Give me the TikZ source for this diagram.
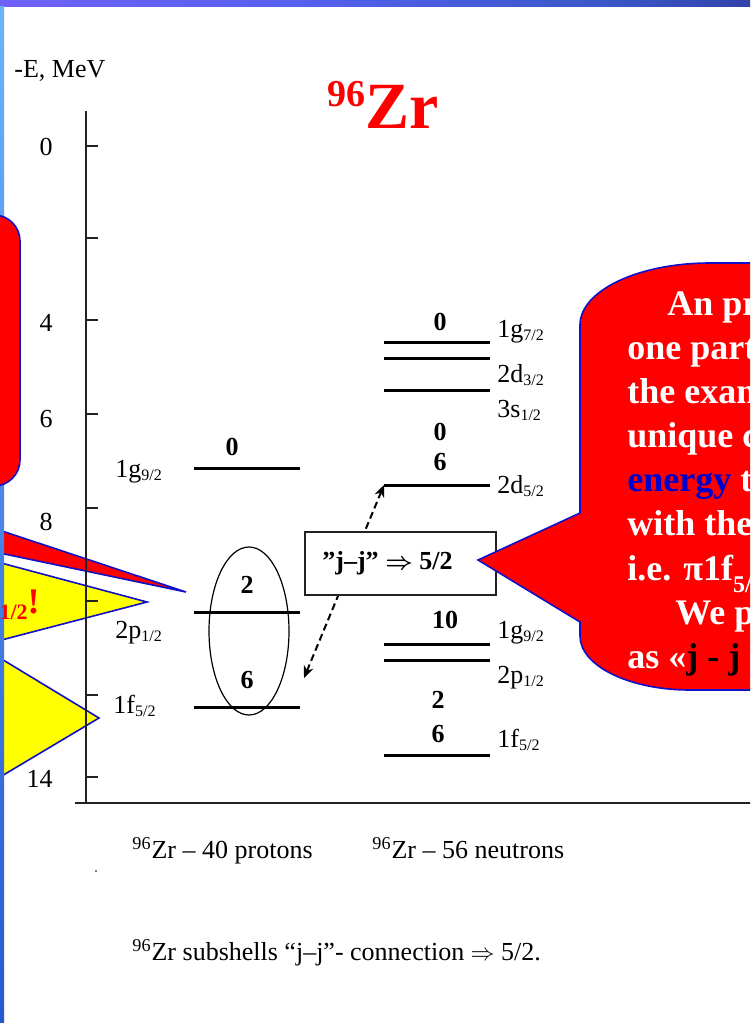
\documentclass[tikz,border=0pt]{standalone}
\usepackage{fontspec}
\setmainfont{Liberation Serif}
\usetikzlibrary{arrows.meta,positioning,calc}
\definecolor{calloutred}{HTML}{FF0000}
\definecolor{calloutyellow}{HTML}{FFFF00}
\definecolor{edgeblue}{HTML}{1010C8}
\definecolor{wordblue}{HTML}{0000CC}
\definecolor{axisgray}{HTML}{222222}
\definecolor{barA}{HTML}{5C96FF}
\definecolor{barB}{HTML}{7D62FF}
\definecolor{barC}{HTML}{5560EE}
\definecolor{barD}{HTML}{3A58C8}
\definecolor{barE}{HTML}{2A2E8C}
\definecolor{barF}{HTML}{1E1E5E}
\definecolor{stripetop}{HTML}{6AB4FF}
\definecolor{stripebot}{HTML}{2858D0}
\pgfdeclarehorizontalshading{topbar}{100bp}{color(0bp)=(barA); color(15bp)=(barB); color(45bp)=(barC); color(65bp)=(barD); color(85bp)=(barE); color(100bp)=(barF)}
\newcommand{\sub}[1]{\raisebox{-1.5pt}{\fontsize{8}{8}\selectfont #1}}

\begin{document}
\begin{tikzpicture}[x=0.5pt,y=-0.5pt,>=Stealth,
    level/.style={line width=1.5pt,draw=black},
    axis/.style={line width=0.6pt,draw=axisgray},
    occ/.style={anchor=base,inner sep=0pt,font=\fontsize{13}{15}\selectfont\bfseries},
    shell/.style={anchor=base west,inner sep=0pt,font=\fontsize{13}{15}\selectfont},
    mev/.style={anchor=base east,inner sep=0pt,font=\fontsize{13}{15}\selectfont},
    plain/.style={anchor=base west,inner sep=0pt,font=\fontsize{13}{15}\selectfont},
    balloon/.style={fill=calloutred,draw=edgeblue,line width=0.8pt},
    pointer/.style={fill=calloutyellow,draw=edgeblue,line width=0.8pt},
    say/.style={anchor=base west,inner sep=0pt,text=white,font=\fontsize{18}{22}\selectfont\bfseries},
    jjbox/.style={draw=axisgray,line width=0.65pt,fill=white,minimum width=95.5pt,minimum height=31.5pt,inner sep=0pt,font=\fontsize{13}{15}\selectfont\bfseries\boldmath},
    link/.style={{Stealth[length=6pt,width=5pt]}-{Stealth[length=6pt,width=5pt]},dashed,dash pattern=on 3.5pt off 2pt,line width=1pt}]
  \clip (0,0) rectangle (750,1023);
  \fill[white] (0,0) rectangle (750,1023);
  \shade[shading=topbar] (0,0) rectangle (750,6);

  % callouts coming in from the left
  \draw[balloon] (-10,527) -- (186,592) -- (-10,551) -- cycle;
  \draw[pointer] (-10,560) -- (147,602) -- (-10,643) -- cycle;
  \draw[pointer] (-10,652) -- (99,718) -- (-10,783) -- cycle;
  \shade[top color=stripetop,bottom color=stripebot] (0,6) rectangle (4,1023);
  \draw[balloon,rounded corners=13pt] (-40,215) rectangle (20,486);
  \node[anchor=base east,inner sep=0pt,text=calloutred,font=\fontsize{18}{18}\selectfont\bfseries] (bang) at (40,613)
    {\raisebox{-3pt}{\fontsize{11}{11}\selectfont 1/2}!};

  % energy axis
  \draw[axis] (86,111) -- (86,803);
  \draw[axis] (75,803) -- (760,803);
  \foreach \y in {146,238,320,414,508,601,695,777}
    \draw[axis] (86,\y) -- (98,\y);
  \foreach \v/\y in {0/155,4/331,6/427,8/530,14/787}
    \node[mev] (t\v) at (53,\y) {\v};
  \node[plain] (eaxis) at (14,77) {-E, MeV};
  \node[anchor=base west,inner sep=0pt,text=calloutred,font=\fontsize{33}{34}\selectfont\bfseries] (title) at (327,128)
    {\raisebox{11pt}{\fontsize{19}{19}\selectfont 96}Zr};

  % proton subshells
  \foreach \y/\nm in {468/p1g92,612/p2p12,707/p1f52}
    \draw[level] (194,\y) coordinate (\nm w) -- (300,\y) coordinate (\nm e);
  \node[shell] (lp1) at (115,477) {1g\sub{9/2}};
  \node[shell] (lp2) at (115,638) {2p\sub{1/2}};
  \node[shell] (lp3) at (113,713) {1f\sub{5/2}};
  \node[occ] (op1) at (232,455) {0};
  \node[occ] (op2) at (247,593) {2};
  \node[occ] (op3) at (247,688) {6};
  \draw[line width=0.6pt] (249,631) ellipse [x radius=40,y radius=84];

  % neutron subshells
  \foreach \y/\nm in {342/n1g72,358/n2d32,390/n3s12,485/n2d52,644/n1g92,660/n2p12,755/n1f52}
    \draw[level] (384,\y) coordinate (\nm w) -- (490,\y) coordinate (\nm e);
  \node[shell] (ln1) at (497,337) {1g\sub{7/2}};
  \node[shell] (ln2) at (497,382) {2d\sub{3/2}};
  \node[shell] (ln3) at (497,417) {3s\sub{1/2}};
  \node[shell] (ln4) at (497,493) {2d\sub{5/2}};
  \node[shell] (ln5) at (497,638) {1g\sub{9/2}};
  \node[shell] (ln6) at (497,683) {2p\sub{1/2}};
  \node[shell] (ln7) at (497,747) {1f\sub{5/2}};
  \node[occ] (on1) at (440,330) {0};
  \node[occ] (on2) at (440,440) {0};
  \node[occ] (on3) at (440,470) {6};
  \node[occ] (on4) at (445,628) {10};
  \node[occ] (on5) at (438,708) {2};
  \node[occ] (on6) at (438,742) {6};

  % coupling
  \coordinate (p1f52up) at (304,678);
  \draw[link] (n2d52w) -- (p1f52up);
  \node[jjbox] (jj) at (400.5,563.5) {”j–j” $\Rightarrow$ 5/2\hspace*{13pt}};

  % callout on the right
  \draw[balloon] (900,263) -- (710,263) arc[start angle=-90,end angle=-180,x radius=130,y radius=62]
    -- (580,513) -- (478,560) -- (580,622) -- (580,636)
    arc[start angle=180,end angle=90,x radius=110,y radius=54] -- (900,690) -- cycle;
  \node[say] (say1) at (667,315) {An pr};
  \node[say] (say2) at (627,359) {one part};
  \node[say] (say3) at (627,403) {the exam};
  \node[say] (say4) at (627,447) {unique c};
  \node[say] (say5) at (627,491) {\textcolor{wordblue}{energy} t};
  \node[say] (say6) at (627,535) {with the};
  \node[say] (say7) at (627,580) {i.e. π1f\raisebox{-6pt}{\fontsize{12}{12}\selectfont 5/}};
  \node[say] (say8) at (675,624) {We p};
  \node[say] (say9) at (627,668) {as «\textcolor{black}{j - j}};

  % captions
  \node[plain] (protons) at (132,858) {\textsuperscript{96}Zr – 40 protons};
  \node[plain] (neutrons) at (372,858) {\textsuperscript{96}Zr – 56 neutrons};
  \node[plain] (caption) at (132,960) {\textsuperscript{96}Zr subshells “j–j”- connection $\Rightarrow$ 5/2.};
  \fill (96,871) circle [radius=0.8];
\end{tikzpicture}
\end{document}
